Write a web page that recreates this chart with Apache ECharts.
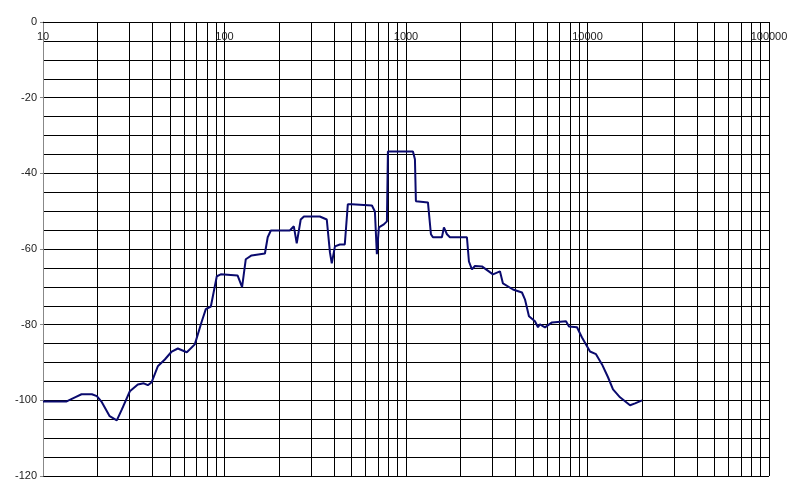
<!DOCTYPE html>
<html>
<head>
<meta charset="utf-8">
<script src="https://cdn.jsdelivr.net/npm/echarts@6/dist/echarts.min.js"></script>
<style>
  html, body { margin: 0; padding: 0; background: #fff; }
  #chart { width: 800px; height: 498px; }
</style>
</head>
<body>
<div id="chart"></div>
<script>
// frequency (Hz) and level (dB)
const freqs = [
  10, 13.5, 15, 16.3, 18.6, 19.8, 21.1, 23.3, 25.5, 27.2,
  30.1, 33.3, 35.9, 37.8, 39.7, 42.9, 46.9, 51.2, 55.3, 62,
  68.6, 75, 78.9, 84.1, 90.7, 95.4, 118, 125, 131, 141,
  167, 173, 180, 229, 241, 250, 263, 274, 335, 366,
  381, 390, 406, 432, 460, 478, 503, 649, 674, 691,
  709, 755, 785, 795, 1092, 1120, 1134, 1321, 1372, 1407,
  1577, 1618, 1681, 1746, 2166, 2222, 2308, 2398, 2620, 3013,
  3293, 3421, 3885, 4355, 4522, 4759, 5134, 5335, 5471, 5831,
  6372, 7611, 7907, 8752, 9326, 10323, 11140, 12023, 12974, 13823,
  15109, 17155, 18280, 19976
];
const levels = [
  -100.3, -100.3, -99.2, -98.4, -98.4, -98.9, -100.5, -104.2, -105.3, -102.4,
  -97.6, -95.8, -95.5, -96.0, -95.2, -91.0, -89.2, -87.1, -86.3, -87.3,
  -85.2, -79.1, -75.9, -75.2, -67.2, -66.7, -67.0, -70.1, -62.7, -61.7,
  -61.2, -56.9, -55.1, -55.1, -54.0, -58.5, -52.2, -51.4, -51.4, -52.2,
  -60.9, -63.8, -59.3, -58.8, -58.8, -48.2, -48.2, -48.5, -50.1, -61.4,
  -54.3, -53.5, -52.7, -34.2, -34.2, -36.3, -47.4, -47.7, -56.1, -56.9,
  -56.9, -54.3, -56.1, -56.9, -56.9, -63.3, -65.4, -64.5, -64.6, -66.7,
  -65.9, -69.1, -70.7, -71.5, -73.3, -77.8, -79.1, -80.7, -79.9, -80.7,
  -79.4, -79.1, -80.5, -80.7, -83.4, -87.1, -87.8, -90.5, -93.9, -97.1,
  -99.2, -101.3, -100.8, -100.0
];

// log-grid lines between the decades (2..9 of each decade)
const decades = [10, 100, 1000, 10000];
const multipliers = [2, 3, 4, 5, 6, 7, 8, 9];
const minorGridFreqs = [];
decades.forEach((d) => multipliers.forEach((m) => minorGridFreqs.push(d * m)));

const chart = echarts.init(document.getElementById("chart"), null, { renderer: "canvas" });

const labelFont = { fontFamily: "Liberation Sans, Arial, sans-serif", fontSize: 11, color: "#222" };

chart.setOption({
  backgroundColor: "#fff",
  animation: false,
  grid: { left: 43, right: 31, top: 22, bottom: 22 },
  xAxis: {
    type: "log",
    logBase: 10,
    min: 10,
    max: 100000,
    position: "top",
    axisLine: { show: true, lineStyle: { color: "#000", width: 1 } },
    axisTick: { show: false },
    axisLabel: {
      inside: true,
      margin: 9,
      formatter: (v) => String(Math.round(v)),
      ...labelFont,
    },
    splitLine: { show: true, lineStyle: { color: "#000", width: 1 } },
  },
  yAxis: {
    type: "value",
    min: -120,
    max: 0,
    interval: 20,
    axisLine: { show: true, lineStyle: { color: "#888", width: 1 } },
    axisTick: { show: true, length: 3, lineStyle: { color: "#888" } },
    axisLabel: { margin: 6, ...labelFont },
    minorTick: { show: false, splitNumber: 4 },
    splitLine: { show: true, lineStyle: { color: "#000", width: 1 } },
    minorSplitLine: { show: true, lineStyle: { color: "#000", width: 1 } },
  },
  series: [
    {
      type: "line",
      z: 1,
      data: [],
      silent: true,
      markLine: {
        silent: true,
        symbol: "none",
        label: { show: false },
        lineStyle: { color: "#000", width: 1, type: "solid" },
        data: minorGridFreqs.map((f) => ({ xAxis: f })),
        animation: false,
      },
    },
    {
      type: "line",
      z: 5,
      data: freqs.map((f, i) => [f, levels[i]]),
      showSymbol: false,
      smooth: false,
      lineStyle: { color: "#0a0a6e", width: 2 },
      itemStyle: { color: "#0a0a6e" },
    },
  ],
});
</script>
</body>
</html>
